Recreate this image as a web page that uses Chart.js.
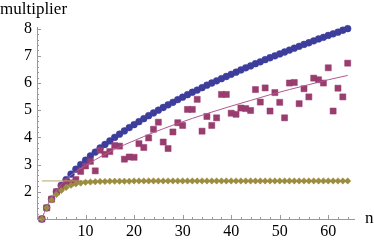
<!DOCTYPE html>
<html>
<head>
<meta charset="utf-8">
<script src="https://cdn.jsdelivr.net/npm/chart.js@4"></script>
<style>
  html, body { margin: 0; padding: 0; background: #fff; }
</style>
</head>
<body>
<canvas id="chart" width="374" height="242"></canvas>
<script>
const nValues = [1, 2, 3, 4, 5, 6, 7, 8, 9, 10, 11, 12, 13, 14, 15, 16, 17, 18, 19, 20,
    21, 22, 23, 24, 25, 26, 27, 28, 29, 30, 31, 32, 33, 34, 35, 36, 37, 38, 39, 40,
    41, 42, 43, 44, 45, 46, 47, 48, 49, 50, 51, 52, 53, 54, 55, 56, 57, 58, 59, 60,
    61, 62, 63, 64];

const blueValues = [1.00, 1.41, 1.73, 2.00, 2.24, 2.45, 2.65, 2.83, 3.00, 3.16,
    3.32, 3.46, 3.61, 3.74, 3.87, 4.00, 4.12, 4.24, 4.36, 4.47,
    4.58, 4.69, 4.80, 4.90, 5.00, 5.10, 5.20, 5.29, 5.39, 5.48,
    5.57, 5.66, 5.74, 5.83, 5.92, 6.00, 6.08, 6.16, 6.24, 6.32,
    6.40, 6.48, 6.56, 6.63, 6.71, 6.78, 6.86, 6.93, 7.00, 7.07,
    7.14, 7.21, 7.28, 7.35, 7.42, 7.48, 7.55, 7.62, 7.68, 7.75,
    7.81, 7.87, 7.94, 8.00];

const squareValues = [1.00, 1.41, 1.73, 2.00, 2.20, 2.37, 2.33, 2.45, 2.75, 2.95,
    3.12, 2.77, 3.53, 3.38, 3.48, 3.70, 3.68, 3.20, 3.28, 3.27,
    3.77, 3.63, 3.98, 4.30, 4.56, 3.83, 3.59, 4.20, 4.54, 4.44,
    5.03, 5.03, 5.40, 4.23, 4.77, 4.44, 4.72, 5.58, 5.58, 4.89,
    4.85, 5.08, 5.06, 4.99, 5.76, 5.30, 5.82, 4.97, 5.65, 5.29,
    4.72, 6.00, 6.02, 5.24, 5.79, 5.49, 6.18, 6.12, 6.00, 6.56,
    4.97, 5.81, 5.49, 6.73];

const goldValues = [1.00, 1.41, 1.70, 1.90, 2.05, 2.16, 2.24, 2.29, 2.32, 2.35,
    2.36, 2.37, 2.38, 2.38, 2.39, 2.39, 2.39, 2.39, 2.39, 2.40,
    2.40, 2.40, 2.40, 2.40, 2.40, 2.40, 2.40, 2.40, 2.40, 2.40,
    2.40, 2.40, 2.40, 2.40, 2.40, 2.40, 2.40, 2.40, 2.40, 2.40,
    2.40, 2.40, 2.40, 2.40, 2.40, 2.40, 2.40, 2.40, 2.40, 2.40,
    2.40, 2.40, 2.40, 2.40, 2.40, 2.40, 2.40, 2.40, 2.40, 2.40,
    2.40, 2.40, 2.40, 2.40];

// smooth fit curve through the squares
const fitN = [1, 2, 3, 4, 5, 6, 8, 10, 12, 14, 16, 18, 20, 24, 28, 32, 36, 40, 44, 48, 52, 56, 60, 64];
const fitValues = [1.00, 1.45, 1.78, 2.05, 2.27, 2.46, 2.75, 2.97, 3.18, 3.38, 3.56, 3.73, 3.88,
    4.18, 4.45, 4.70, 4.93, 5.15, 5.36, 5.57, 5.76, 5.94, 6.12, 6.28];

const limitN = [1, 64];
const limitValues = [2.40, 2.40];

const xTickLabels = [10, 20, 30, 40, 50, 60];
const yTickLabels = [2, 3, 4, 5, 6, 7, 8];

const toPoints = (xs, ys) => xs.map((x, i) => ({ x: x, y: ys[i] }));

const axisColor = '#999999';
const labelFont = { family: 'Liberation Serif', size: 16 };

// Mathematica-style inward ticks with minor marks, plus axis titles
const axisDecor = {
    id: 'axisDecor',
    afterDraw(chart) {
        const { ctx, chartArea, scales: { x, y } } = chart;
        ctx.save();
        ctx.strokeStyle = axisColor;
        ctx.lineWidth = 1;
        ctx.beginPath();
        for (let i = 0; i <= 35; i++) {
            const py = Math.round(y.getPixelForValue(1 + i * 0.2)) + 0.5;
            const len = i % 5 === 0 ? 4 : 2;
            ctx.moveTo(chartArea.left, py);
            ctx.lineTo(chartArea.left + len, py);
        }
        for (let v = 2; v <= 64; v += 2) {
            const px = Math.round(x.getPixelForValue(v)) + 0.5;
            const len = v % 10 === 0 ? 4 : 2;
            ctx.moveTo(px, chartArea.bottom);
            ctx.lineTo(px, chartArea.bottom - len);
        }
        ctx.stroke();

        ctx.fillStyle = '#000';
        ctx.font = '17px "Liberation Serif"';
        ctx.textAlign = 'left';
        ctx.textBaseline = 'alphabetic';
        ctx.fillText('multiplier', 0, 14);
        ctx.fillText('n', 365, 223);
        ctx.restore();
    }
};

new Chart(document.getElementById('chart').getContext('2d'), {
    type: 'scatter',
    data: {
        datasets: [
            {
                label: 'limit',
                type: 'line',
                data: toPoints(limitN, limitValues),
                borderColor: '#b5a66e',
                borderWidth: 1,
                pointRadius: 0,
                fill: false,
                clip: false,
                order: 2
            },
            {
                label: 'gold',
                data: toPoints(nValues, goldValues),
                pointStyle: 'rectRot',
                pointRadius: 3.2,
                backgroundColor: '#9c8c40',
                borderColor: '#9c8c40',
                borderWidth: 0.5,
                clip: false,
                order: 1
            },
            {
                label: 'fit',
                type: 'line',
                data: toPoints(fitN, fitValues),
                borderColor: '#b0588f',
                borderWidth: 1,
                pointRadius: 0,
                cubicInterpolationMode: 'monotone',
                fill: false,
                clip: false,
                order: 3
            },
            {
                label: 'squares',
                data: toPoints(nValues, squareValues),
                pointStyle: 'rect',
                pointRadius: 4.3,
                backgroundColor: '#993d6f',
                borderColor: '#993d6f',
                borderWidth: 0.5,
                clip: false,
                order: 4
            },
            {
                label: 'blue',
                data: toPoints(nValues, blueValues),
                pointStyle: 'circle',
                pointRadius: 3.4,
                backgroundColor: '#3d3d9c',
                borderColor: '#3d3d9c',
                borderWidth: 0.5,
                clip: false,
                order: 5
            }
        ]
    },
    options: {
        responsive: false,
        animation: false,
        layout: { padding: { top: 27, right: 20, left: 0, bottom: 0 } },
        plugins: {
            legend: { display: false },
            tooltip: { enabled: false }
        },
        scales: {
            x: {
                type: 'linear',
                min: 0,
                max: 65.3,
                afterFit: scale => { scale.height = 23; },
                afterBuildTicks: scale => { scale.ticks = xTickLabels.map(v => ({ value: v })); },
                grid: { display: false, drawTicks: false },
                border: { display: true, color: axisColor, width: 1 },
                ticks: {
                    autoSkip: false,
                    maxRotation: 0,
                    padding: 3,
                    color: '#000',
                    font: labelFont,
                    callback: v => String(v)
                }
            },
            y: {
                type: 'linear',
                min: 1,
                max: 8.06,
                afterFit: scale => { scale.width = 37; },
                afterBuildTicks: scale => { scale.ticks = yTickLabels.map(v => ({ value: v })); },
                grid: { display: false, drawTicks: false },
                border: { display: true, color: axisColor, width: 1 },
                ticks: {
                    autoSkip: false,
                    padding: 5,
                    color: '#000',
                    font: labelFont,
                    callback: v => String(v)
                }
            }
        }
    },
    plugins: [axisDecor]
});
</script>
</body>
</html>
